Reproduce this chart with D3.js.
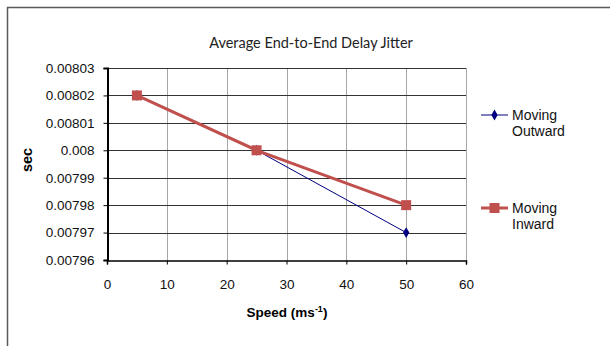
<!DOCTYPE html>
<html>
<head>
<meta charset="utf-8">
<script src="https://cdn.jsdelivr.net/npm/d3@7"></script>
<style>
  html, body { margin: 0; padding: 0; background: #fff; }
  svg { display: block; }
</style>
</head>
<body>
<script>
// Average end-to-end delay jitter vs. node speed
const speeds = [5, 25, 50];
const seriesNames = ["Moving Outward", "Moving Inward"];
const outwardValues = [0.00802, 0.00800, 0.00797];
const inwardValues = [0.00802, 0.00800, 0.00798];
const xTicks = [0, 10, 20, 30, 40, 50, 60];
const yTicks = [0.00796, 0.00797, 0.00798, 0.00799, 0.00800, 0.00801, 0.00802, 0.00803];
const yTickLabels = ["0.00796", "0.00797", "0.00798", "0.00799", "0.008", "0.00801", "0.00802", "0.00803"];

const W = 610, H = 346;
const svg = d3.select("body").append("svg").attr("width", W).attr("height", H);

// chart area frame
svg.append("rect")
  .attr("x", 7.5).attr("y", 7.5)
  .attr("width", W + 10).attr("height", H + 10)
  .attr("fill", "#fff").attr("stroke", "#5a5a5a").attr("stroke-width", 1.5);

const plot = { left: 107, right: 466, top: 68, bottom: 260 };
const x = d3.scaleLinear().domain([0, 60]).range([plot.left, plot.right]);
const y = d3.scaleLinear().domain([0.00796, 0.00803]).range([plot.bottom, plot.top]);

// title
svg.append("text")
  .attr("x", 311).attr("y", 48)
  .attr("text-anchor", "middle")
  .attr("font-family", "Lato, 'Open Sans', sans-serif")
  .attr("font-size", 14.5)
  .attr("fill", "#222")
  .text("Average End-to-End Delay Jitter");

// vertical gridlines
svg.append("g").selectAll("line")
  .data(xTicks.filter(d => d > 0))
  .join("line")
  .attr("x1", d => Math.round(x(d)) + 0.5).attr("x2", d => Math.round(x(d)) + 0.5)
  .attr("y1", plot.top).attr("y2", plot.bottom)
  .attr("stroke", "#a6a6a6").attr("stroke-width", 1);

// horizontal gridlines
svg.append("g").selectAll("line")
  .data(yTicks.slice(1))
  .join("line")
  .attr("x1", plot.left).attr("x2", plot.right)
  .attr("y1", d => Math.round(y(d)) + 0.5).attr("y2", d => Math.round(y(d)) + 0.5)
  .attr("stroke", "#333").attr("stroke-width", 1);

const font = "'Liberation Sans', Arial, sans-serif";

// y axis
const yAxis = d3.axisLeft(y).tickValues(yTicks)
  .tickFormat((d, i) => yTickLabels[i]).tickSize(4).tickPadding(9);
const gy = svg.append("g").attr("transform", `translate(${plot.left + 0.5},0)`).call(yAxis);
gy.select(".domain").attr("stroke", "#000").attr("stroke-width", 2);
gy.selectAll(".tick line").attr("stroke", "#000");
gy.selectAll(".tick text").attr("font-family", font).attr("font-size", 13.5).attr("fill", "#111");

// x axis
const xAxis = d3.axisBottom(x).tickValues(xTicks).tickSize(4).tickPadding(15);
const gx = svg.append("g").attr("transform", `translate(0,${plot.bottom + 0.5})`).call(xAxis);
gx.select(".domain").attr("stroke", "#000").attr("stroke-width", 1.5);
gx.selectAll(".tick line").attr("stroke", "#000");
gx.selectAll(".tick text").attr("font-family", font).attr("font-size", 13.5).attr("fill", "#111");

// axis titles
svg.append("text")
  .attr("transform", `translate(32,${(plot.top + plot.bottom) / 2 - 4}) rotate(-90)`)
  .attr("text-anchor", "middle")
  .attr("font-family", font).attr("font-size", 14.5).attr("font-weight", "bold")
  .text("sec");

const xt = svg.append("text")
  .attr("x", 287).attr("y", 317)
  .attr("text-anchor", "middle")
  .attr("font-family", font).attr("font-size", 13.5).attr("font-weight", "bold");
xt.append("tspan").text("Speed (ms");
xt.append("tspan").attr("dy", -5).attr("font-size", 9).text("-1");
xt.append("tspan").attr("dy", 5).text(")");

const line = d3.line().x(d => x(d[0])).y(d => y(d[1]));
const outward = speeds.map((s, i) => [s, outwardValues[i]]);
const inward = speeds.map((s, i) => [s, inwardValues[i]]);

const blue = "#000080", red = "#c0504d";
const diamond = d3.symbol().type(d3.symbolDiamond).size(34);

// outward series
svg.append("path").datum(outward).attr("d", line)
  .attr("fill", "none").attr("stroke", blue).attr("stroke-width", 1);
svg.append("g").selectAll("path").data(outward).join("path")
  .attr("transform", d => `translate(${x(d[0])},${y(d[1])})`)
  .attr("d", diamond).attr("fill", blue);

// inward series
svg.append("path").datum(inward).attr("d", line)
  .attr("fill", "none").attr("stroke", red).attr("stroke-width", 3);
svg.append("g").selectAll("rect").data(inward).join("rect")
  .attr("x", d => x(d[0]) - 5).attr("y", d => y(d[1]) - 5)
  .attr("width", 10).attr("height", 10).attr("fill", red);

// legend
const legend = svg.append("g").attr("font-family", font).attr("font-size", 14).attr("fill", "#111");
const entries = [
  { name: seriesNames[0], color: blue, width: 1, y: 115, marker: "diamond" },
  { name: seriesNames[1], color: red, width: 3, y: 208, marker: "square" }
];
entries.forEach(e => {
  legend.append("line")
    .attr("x1", 481).attr("x2", 508).attr("y1", e.y).attr("y2", e.y)
    .attr("stroke", e.color).attr("stroke-width", e.width);
  if (e.marker === "diamond") {
    legend.append("path").attr("transform", `translate(494.5,${e.y})`)
      .attr("d", diamond).attr("fill", e.color);
  } else {
    legend.append("rect").attr("x", 489.5).attr("y", e.y - 5)
      .attr("width", 10).attr("height", 10).attr("fill", e.color);
  }
  const words = e.name.split(" ");
  words.forEach((w, i) => {
    legend.append("text").attr("x", 512).attr("y", e.y + 5 + i * 16).attr("fill", "#111").text(w);
  });
});
</script>
</body>
</html>
